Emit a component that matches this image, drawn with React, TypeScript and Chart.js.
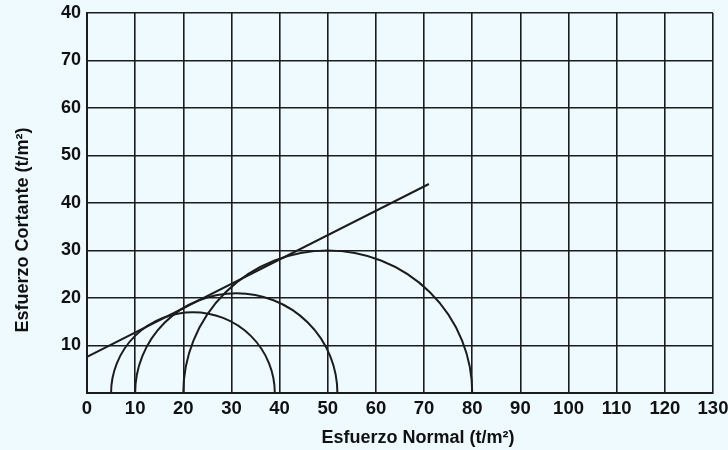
import React, { useEffect, useRef } from "react";
import { Chart, registerables } from "chart.js";

Chart.register(...registerables);

// X axis: normal stress (t/m²)
const xTickValues = [0, 10, 20, 30, 40, 50, 60, 70, 80, 90, 100, 110, 120, 130];
// Y axis tick labels as printed in the original (top one reads "40")
const yTickLabels = ["", "10", "20", "30", "40", "50", "60", "70", "40"];

// Axis titles
const xTitle = "Esfuerzo Normal (t/m²)";
const yTitle = "Esfuerzo Cortante (t/m²)";

// Mohr circles: minor and major principal stresses
const circleSigma3 = [5, 10, 20];
const circleSigma1 = [39, 52, 80];

// Failure envelope end points
const envelopeX = [0, 71];
const envelopeY = [7.6, 44];

const INK = "#1c1c1c";
const BG = "#eefaff";
const FONT = "'Liberation Sans', Arial, sans-serif";

const mohrPlugin = {
  id: "mohrCircles",
  afterDatasetsDraw(chart: any) {
    const { ctx, chartArea, scales } = chart;
    const xs = scales.x;
    const ys = scales.y;
    ctx.save();
    ctx.beginPath();
    ctx.rect(chartArea.left, chartArea.top, chartArea.right - chartArea.left, chartArea.bottom - chartArea.top);
    ctx.clip();
    ctx.strokeStyle = INK;
    ctx.lineWidth = 2;
    for (let i = 0; i < circleSigma3.length; i++) {
      const c = (circleSigma3[i] + circleSigma1[i]) / 2;
      const r = (circleSigma1[i] - circleSigma3[i]) / 2;
      const cx = xs.getPixelForValue(c);
      const cy = ys.getPixelForValue(0);
      const rx = Math.abs(xs.getPixelForValue(c + r) - cx);
      const ry = Math.abs(ys.getPixelForValue(r) - cy);
      ctx.beginPath();
      ctx.ellipse(cx, cy, rx, ry, 0, Math.PI, 2 * Math.PI);
      ctx.stroke();
    }
    ctx.restore();
  },
};

const titlePlugin = {
  id: "axisTitles",
  afterDraw(chart: any) {
    const { ctx } = chart;
    ctx.save();
    ctx.fillStyle = "#111";
    ctx.font = `bold 18px ${FONT}`;
    ctx.textAlign = "center";
    ctx.textBaseline = "alphabetic";
    ctx.fillText(xTitle, 418, 443);
    ctx.translate(28, 230);
    ctx.rotate(-Math.PI / 2);
    ctx.fillText(yTitle, 0, 0);
    ctx.restore();
  },
};

export default function App() {
  const ref = useRef<HTMLCanvasElement | null>(null);

  useEffect(() => {
    document.body.style.margin = "0";
    document.body.style.background = BG;
    const canvas = ref.current;
    if (!canvas) return;
    const chart = new Chart(canvas, {
      type: "scatter",
      data: {
        datasets: [
          {
            label: "Envolvente",
            data: envelopeX.map((x, i) => ({ x, y: envelopeY[i] })),
            showLine: true,
            borderColor: INK,
            borderWidth: 2,
            pointRadius: 0,
            fill: false,
          },
        ],
      },
      options: {
        animation: false,
        responsive: false,
        devicePixelRatio: 1,
        layout: { padding: { left: 0, right: 15, top: 13, bottom: 0 } },
        plugins: {
          legend: { display: false },
          tooltip: { enabled: false },
        },
        scales: {
          x: {
            type: "linear",
            min: 0,
            max: 130,
            afterBuildTicks: (scale: any) => {
              scale.ticks = xTickValues.map((v) => ({ value: v }));
            },
            afterFit: (scale: any) => {
              scale.height = 57;
              scale.paddingLeft = 0;
              scale.paddingRight = 0;
            },
            grid: { color: INK, lineWidth: 1.6, drawTicks: false },
            border: { color: INK, width: 2 },
            ticks: {
              color: "#111",
              padding: 5,
              maxRotation: 0,
              autoSkip: false,
              font: { family: FONT, size: 18.5, weight: "bold" },
              callback: (v: any) => String(v),
            },
            title: { display: false },
          },
          y: {
            type: "linear",
            min: 0,
            max: 80,
            ticks: {
              stepSize: 10,
              color: "#111",
              padding: 6,
              autoSkip: false,
              font: { family: FONT, size: 18, weight: "bold" },
              callback: (v: any) => yTickLabels[Math.round(Number(v) / 10)] ?? "",
            },
            afterFit: (scale: any) => {
              scale.width = 87;
              scale.paddingTop = 0;
              scale.paddingBottom = 0;
            },
            grid: { color: INK, lineWidth: 1.6, drawTicks: false },
            border: { color: INK, width: 2 },
            title: { display: false },
          },
        },
      },
      plugins: [mohrPlugin, titlePlugin],
    } as any);
    return () => chart.destroy();
  }, []);

  return (
    <div style={{ width: 728, height: 450, background: BG }}>
      <canvas ref={ref} width={728} height={450} style={{ display: "block" }} />
    </div>
  );
}
